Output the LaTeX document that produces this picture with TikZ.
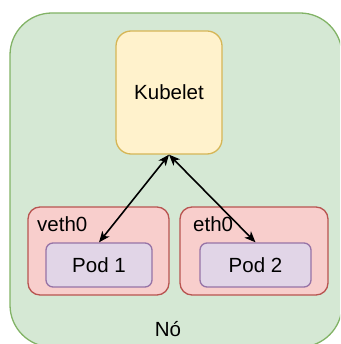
\documentclass[tikz,border=0pt]{standalone}
\usepackage{fontspec}
\setmainfont{Liberation Sans}
\usetikzlibrary{arrows.meta}
\definecolor{nodeFill}{HTML}{D5E8D4}
\definecolor{nodeLine}{HTML}{82B366}
\definecolor{kubFill}{HTML}{FFF2CC}
\definecolor{kubLine}{HTML}{D6B656}
\definecolor{ifFill}{HTML}{F8CECC}
\definecolor{ifLine}{HTML}{B85450}
\definecolor{podFill}{HTML}{E1D5E7}
\definecolor{podLine}{HTML}{9673A6}
\tikzset{
  box/.style={draw, line width=1.3pt, inner sep=0pt, anchor=center},
  hostbox/.style={box, fill=nodeFill, draw=nodeLine, rounded corners=42pt},
  kubbox/.style={box, fill=kubFill, draw=kubLine, rounded corners=15pt},
  ifbox/.style={box, fill=ifFill, draw=ifLine, rounded corners=12pt},
  podbox/.style={box, fill=podFill, draw=podLine, rounded corners=7pt},
  txt/.style={inner sep=0pt, font=\fontsize{20.5}{24}\selectfont},
  link/.style={line width=1.6pt, {Stealth[length=11pt,width=9pt,inset=3pt]}-{Stealth[length=11pt,width=9pt,inset=3pt]}}
}
\begin{document}
\begin{tikzpicture}[x=1pt, y=-1pt]
\useasboundingbox (0,0) rectangle (340,344);
\clip (0,0) rectangle (340,344);
% host
\node[hostbox, minimum width=332pt, minimum height=334pt] (host) at (176,180) {};
\node[txt] (hostlabel) at (168,329) {Nó};
% kubelet
\node[kubbox, minimum width=106pt, minimum height=123pt] (kubelet) at (169,92.5) {};
\node[txt] (kubtext) at (169,92) {Kubelet};
% interfaces
\node[ifbox, minimum width=141pt, minimum height=88pt] (veth) at (98.5,251) {};
\node[ifbox, minimum width=148pt, minimum height=88pt] (eth) at (254,251) {};
\node[txt, anchor=west] (vethlabel) at (37,224) {veth0};
\node[txt, anchor=west] (ethlabel) at (193,224) {eth0};
% pods
\node[podbox, minimum width=106pt, minimum height=44pt] (pod1) at (99,265) {};
\node[podbox, minimum width=111pt, minimum height=44pt] (pod2) at (255.5,265) {};
\node[txt] (pod1text) at (99,265) {Pod 1};
\node[txt] (pod2text) at (255.5,265) {Pod 2};
% links
\draw[link] (kubelet.south) -- (pod1.north);
\draw[link] (kubelet.south) -- (pod2.north);
\end{tikzpicture}
\end{document}
